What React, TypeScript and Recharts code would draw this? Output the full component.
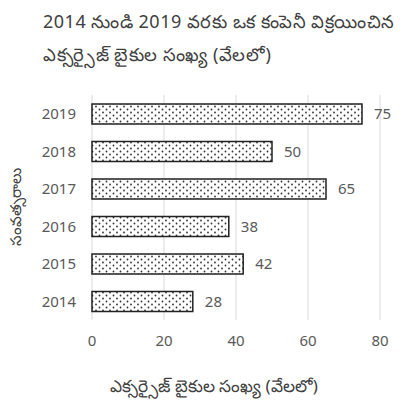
import { BarChart, Bar, XAxis, YAxis, CartesianGrid, LabelList } from "recharts";

// years shown on the category axis (bottom to top)
const years = ["2014", "2015", "2016", "2017", "2018", "2019"];
// bikes sold, in thousands
const sold = [28, 42, 38, 65, 50, 75];
const xTicks = [0, 20, 40, 60, 80];

const titleLine1 = "2014 నుండి 2019 వరకు ఒక కంపెనీ విక్రయించిన";
const titleLine2 = "ఎక్సర్సైజ్ బైకుల సంఖ్య (వేలలో)";
const xTitle = "ఎక్సర్సైజ్ బైకుల సంఖ్య (వేలలో)";
const yTitle = "సంవత్సరాలు";

const data = years.map((year, i) => ({ year, sold: sold[i] }));

const font = "'Noto Sans', 'DejaVu Sans', sans-serif";

export default function App() {
  return (
    <div
      style={{
        position: "fixed",
        left: 0,
        top: 0,
        width: 411,
        height: 406,
        background: "#fff",
        fontFamily: font,
      }}
    >
      <BarChart
        width={411}
        height={406}
        data={data}
        layout="vertical"
        margin={{ top: 95, right: 31, bottom: 0, left: 0 }}
      >
        <defs>
          <pattern id="dots" width="7" height="6" patternUnits="userSpaceOnUse">
            <rect width="7" height="6" fill="#fff" />
            <circle cx="1.5" cy="1.5" r="0.9" fill="#333" />
            <circle cx="5" cy="4.5" r="0.9" fill="#333" />
          </pattern>
        </defs>
        <CartesianGrid horizontal={false} stroke="#d9d9d9" />
        <XAxis
          type="number"
          domain={[0, 80]}
          ticks={xTicks}
          height={86}
          axisLine={false}
          tickLine={false}
          tickSize={0}
          tickMargin={15}
          tick={{ fill: "#595959", fontSize: 15, fontFamily: font }}
          label={{
            value: xTitle,
            position: "insideBottom",
            offset: 14,
            dx: -22,
            fill: "#404040",
            fontSize: 17,
            fontFamily: font,
          }}
        />
        <YAxis
          type="category"
          dataKey="year"
          reversed
          width={92}
          axisLine={false}
          tickLine={false}
          tickSize={0}
          tickMargin={16}
          tick={{ fill: "#595959", fontSize: 15, fontFamily: font }}
        />
        <Bar
          dataKey="sold"
          fill="url(#dots)"
          stroke="#222"
          strokeWidth={1.5}
          barSize={20}
          isAnimationActive={false}
        >
          <LabelList dataKey="sold" position="right" offset={12} fill="#595959" fontSize={15} fontFamily={font} />
        </Bar>
      </BarChart>

      {/* title and y-axis title drawn over the chart */}
      <svg
        width={411}
        height={406}
        style={{ position: "absolute", left: 0, top: 0, pointerEvents: "none" }}
      >
        <g fill="#404040" fontFamily={font} fontSize={18} letterSpacing={0.5}>
          <text x={43} y={28}>{titleLine1}</text>
          <text x={43} y={61}>{titleLine2}</text>
        </g>
        <text
          transform="translate(21 207) rotate(-90)"
          textAnchor="middle"
          fill="#404040"
          fontFamily={font}
          fontSize={15}
        >
          {yTitle}
        </text>
      </svg>
    </div>
  );
}
